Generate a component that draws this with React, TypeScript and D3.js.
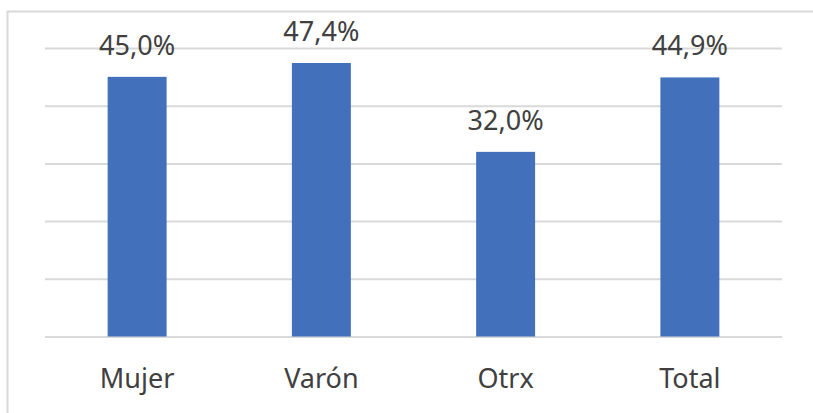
import React, { useEffect, useRef } from "react";
import * as d3 from "d3";

const categories = ["Mujer", "Varón", "Otrx", "Total"];
const values = [45.0, 47.4, 32.0, 44.9];
const yTicks = [0, 10, 20, 30, 40, 50];

export default function App() {
  const svgRef = useRef<SVGSVGElement>(null);

  useEffect(() => {
    const w = 813;
    const h = 413;
    const svg = d3.select(svgRef.current).attr("width", w).attr("height", h);
    svg.selectAll("*").remove();

    const font = "'Noto Sans', 'Open Sans', sans-serif";
    const textColor = "#404040";

    // chart border (runs off the right and bottom of the picture)
    svg.append("rect")
      .attr("x", 7.5)
      .attr("y", 11.5)
      .attr("width", w + 20)
      .attr("height", h + 20)
      .attr("fill", "white")
      .attr("stroke", "#d9d9d9")
      .attr("stroke-width", 2);

    const left = 45;
    const right = 782;
    const top = 48;
    const bottom = 336.5;

    const xScale = d3.scaleBand<string>()
      .domain(categories)
      .range([left, right])
      .paddingInner(0.68)
      .paddingOuter(0.34);
    const yScale = d3.scaleLinear().domain([0, 50]).range([bottom, top]);

    // grid
    const yGrid = d3.axisLeft(yScale)
      .tickValues(yTicks)
      .tickSize(-(right - left))
      .tickFormat(() => "");
    const g = svg.append("g")
      .attr("transform", `translate(${left},0)`)
      .call(yGrid);
    g.select(".domain").remove();
    g.selectAll(".tick line")
      .attr("stroke", "#d9d9d9")
      .attr("stroke-width", 2);

    // bars
    svg.selectAll(".bar")
      .data(values)
      .join("rect")
      .attr("class", "bar")
      .attr("x", (_, i) => xScale(categories[i]) as number)
      .attr("y", (v) => yScale(v))
      .attr("width", xScale.bandwidth())
      .attr("height", (v) => bottom - yScale(v))
      .attr("fill", "#4270bb");

    // value labels
    svg.selectAll(".val")
      .data(values)
      .join("text")
      .attr("class", "val")
      .attr("x", (_, i) => (xScale(categories[i]) as number) + xScale.bandwidth() / 2)
      .attr("y", (v) => yScale(v) - 22)
      .attr("text-anchor", "middle")
      .style("font-family", font)
      .style("font-size", "27px")
      .style("fill", textColor)
      .text((v) => v.toFixed(1).replace(".", ",") + "%");

    // category labels
    const xAxis = d3.axisBottom(xScale).tickSize(0).tickPadding(0);
    const xa = svg.append("g")
      .attr("transform", `translate(0,${bottom})`)
      .call(xAxis);
    xa.select(".domain").remove();
    xa.selectAll(".tick text")
      .attr("y", 51)
      .attr("dy", 0)
      .style("font-family", font)
      .style("font-size", "27px")
      .style("fill", textColor);
  }, []);

  return (
    <div style={{ position: "absolute", left: 0, top: 0 }}>
      <svg ref={svgRef} style={{ display: "block" }}></svg>
    </div>
  );
}
